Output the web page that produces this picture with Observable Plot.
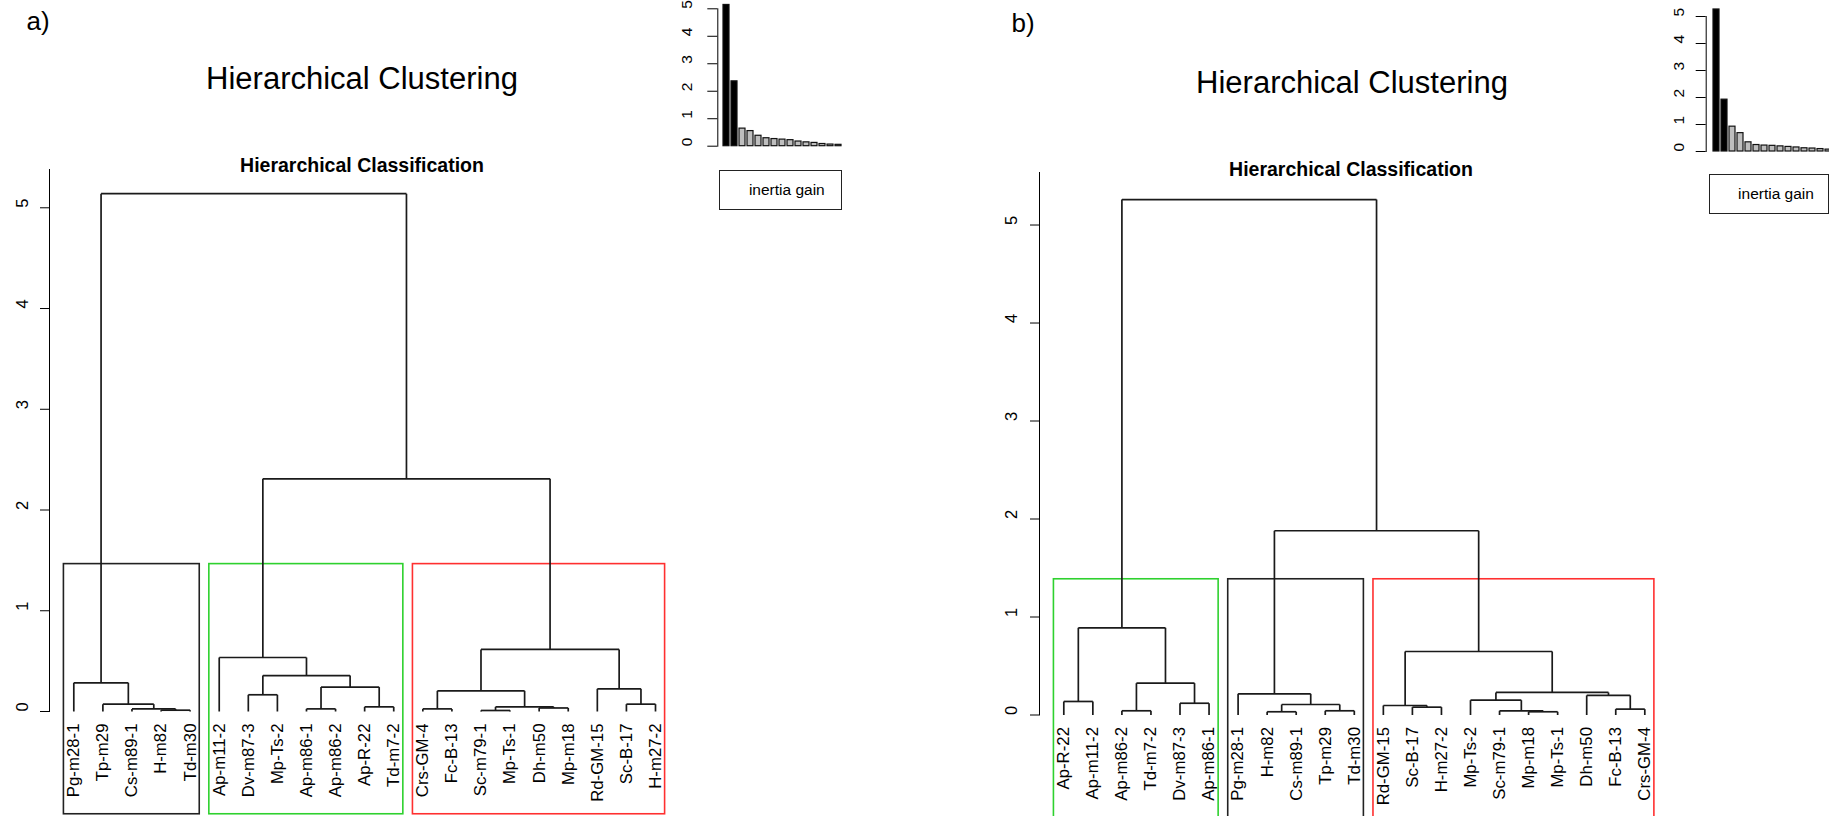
<!DOCTYPE html>
<html><head><meta charset="utf-8">
<script src="https://cdn.jsdelivr.net/npm/d3@7"></script>
<script src="https://cdn.jsdelivr.net/npm/@observablehq/plot@0.6"></script>
<style>
html,body{margin:0;padding:0;background:#fff;overflow:hidden;}
#wrap{position:relative;width:1829px;height:816px;overflow:hidden;background:#fff;font-family:"Liberation Sans",Arial,sans-serif;color:#000;}
#wrap > svg{position:absolute;left:0;top:0;}
.lbl{position:absolute;white-space:nowrap;line-height:1;transform:translate(-50%,-50%);}
.leg{position:absolute;border:1px solid #222;box-sizing:border-box;font-size:15.5px;display:flex;align-items:center;justify-content:center;}
</style></head><body><div id="wrap"></div>
<script>
// ---------- data ----------
const leavesA = ["Pg-m28-1","Tp-m29","Cs-m89-1","H-m82","Td-m30","Ap-m11-2","Dv-m87-3","Mp-Ts-2","Ap-m86-1","Ap-m86-2","Ap-R-22","Td-m7-2","Crs-GM-4","Fc-B-13","Sc-m79-1","Mp-Ts-1","Dh-m50","Mp-m18","Rd-GM-15","Sc-B-17","H-m27-2"];
// merges: [child, child, height]; strings = leaves, numbers = earlier merge index
const mergesA = [
  ["H-m82","Td-m30",0.013], ["Cs-m89-1",0,0.026], ["Tp-m29",1,0.073], ["Pg-m28-1",2,0.285],
  ["Ap-m86-1","Ap-m86-2",0.026], ["Ap-R-22","Td-m7-2",0.046], [4,5,0.242], ["Dv-m87-3","Mp-Ts-2",0.166],
  [7,6,0.357], ["Ap-m11-2",8,0.536],
  ["Crs-GM-4","Fc-B-13",0.026], ["Sc-m79-1","Mp-Ts-1",0.010], ["Dh-m50","Mp-m18",0.035], [11,12,0.046],
  [10,13,0.205], ["Sc-B-17","H-m27-2",0.073], ["Rd-GM-15",15,0.225], [14,16,0.616],
  [9,17,2.31], [3,18,5.14]
];
const clusterSizesA = [5,7,9];
const clusterColorsA = ["#222222","#2ed12e","#ff3030"];
const gainA = [5.14,2.36,0.64,0.55,0.38,0.29,0.26,0.24,0.22,0.17,0.14,0.12,0.08,0.06,0.05];

const leavesB = ["Ap-R-22","Ap-m11-2","Ap-m86-2","Td-m7-2","Dv-m87-3","Ap-m86-1","Pg-m28-1","H-m82","Cs-m89-1","Tp-m29","Td-m30","Rd-GM-15","Sc-B-17","H-m27-2","Mp-Ts-2","Sc-m79-1","Mp-m18","Mp-Ts-1","Dh-m50","Fc-B-13","Crs-GM-4"];
const mergesB = [
  ["Ap-R-22","Ap-m11-2",0.138], ["Ap-m86-2","Td-m7-2",0.043], ["Dv-m87-3","Ap-m86-1",0.12], [1,2,0.325], [0,3,0.89],
  ["H-m82","Cs-m89-1",0.033], ["Tp-m29","Td-m30",0.043], [5,6,0.107], ["Pg-m28-1",7,0.216],
  ["Sc-B-17","H-m27-2",0.08], ["Rd-GM-15",9,0.097], ["Mp-m18","Mp-Ts-1",0.033], ["Sc-m79-1",11,0.043],
  ["Mp-Ts-2",12,0.151], ["Fc-B-13","Crs-GM-4",0.06], ["Dh-m50",14,0.2], [13,15,0.23], [10,16,0.648],
  [8,17,1.88], [4,18,5.26]
];
const clusterSizesB = [6,5,10];
const clusterColorsB = ["#2ed12e","#222222","#ff3030"];
const gainB = [5.26,1.92,0.92,0.68,0.34,0.24,0.22,0.21,0.19,0.17,0.15,0.12,0.11,0.09,0.07];

const yTicksMain = [0,1,2,3,4,5];
const yTicksInset = [0,1,2,3,4,5];
const panelLetters = ["a)","b)"];
const mainTitle = "Hierarchical Clustering";
const subTitle = "Hierarchical Classification";
const legendText = "inertia gain";

// ---------- helpers ----------
function treeSegments(leaves, merges) {
  const pos = new Map(leaves.map((l, i) => [l, i + 1]));
  const nodes = [], segs = [];
  const get = c => typeof c === "string" ? {x: pos.get(c), h: 0} : nodes[c];
  for (const [a, b, h] of merges) {
    const A = get(a), B = get(b);
    segs.push({x1: A.x, y1: A.h, x2: A.x, y2: h});
    segs.push({x1: B.x, y1: B.h, x2: B.x, y2: h});
    segs.push({x1: A.x, y1: h, x2: B.x, y2: h});
    nodes.push({x: (A.x + B.x) / 2, h});
  }
  return segs;
}
function clusterBoxes(sizes, colors, merges, bottom) {
  const hs = merges.map(m => m[2]).sort((a, b) => b - a);
  const top = (hs[1] + hs[2]) / 2;
  let start = 0;
  return sizes.map((n, i) => {
    const r = {x1: start + 0.66, x2: start + n + 0.33, y1: bottom, y2: top, color: colors[i]};
    start += n;
    return r;
  });
}
const W = 1829, H = 816;
const wrap = document.getElementById("wrap");
const baseStyle = {background: "transparent", overflow: "visible", fontFamily: "'Liberation Sans', Arial, sans-serif", color: "#000"};

function panel(o) {
  const segs = treeSegments(o.leaves, o.merges);
  const boxes = clusterBoxes(o.sizes, o.colors, o.merges, o.bottom);
  return Plot.plot({
    width: W, height: H,
    marginLeft: o.axisX, marginRight: 0, marginTop: o.topPx, marginBottom: H - o.zeroPx,
    style: baseStyle,
    x: {type: "linear", domain: [1, o.leaves.length], range: o.xRange, axis: null},
    y: {domain: [0, o.yTop], ticks: yTicksMain, tickSize: 9, tickFormat: () => "", line: true, label: null},
    marks: [
      Plot.rect(boxes, {x1: "x1", x2: "x2", y1: "y1", y2: "y2", stroke: "color", fill: "none", strokeWidth: 1.6}),
      Plot.link(segs, {x1: "x1", y1: "y1", x2: "x2", y2: "y2", stroke: "#1a1a1a", strokeWidth: 1.7}),
      Plot.text(o.leaves, {x: (d, i) => i + 1, y: 0, text: d => d, rotate: -90, textAnchor: "end", dy: 12, fontSize: 16.8, fill: "#000"}),
      Plot.text(yTicksMain, {y: d => d, text: d => String(d), frameAnchor: "left", dx: o.labelDx, rotate: -90, fontSize: 16.5, fill: "#000"})
    ]
  });
}
function inset(o) {
  const idx = o.gain.map((d, i) => i + 1);
  return Plot.plot({
    width: W, height: H,
    marginLeft: o.axisX, marginRight: 0, marginTop: o.fivePx, marginBottom: H - o.zeroPx,
    style: baseStyle,
    x: {type: "band", domain: idx, range: o.xRange, paddingInner: 0.3, paddingOuter: 0, axis: null},
    y: {domain: [0, 5], ticks: yTicksInset, tickSize: 10, tickFormat: () => "", line: true, label: null},
    marks: [
      Plot.barY(o.gain, {x: (d, i) => i + 1, y: d => d, fill: (d, i) => i < 2 ? "#000000" : "#bebebe", stroke: "#111", strokeWidth: 1.2}),
      Plot.text(yTicksInset, {y: d => d, text: d => String(d), frameAnchor: "left", dx: o.labelDx, rotate: -90, fontSize: 15.5, fill: "#000"})
    ]
  });
}
function addLabel(txt, cx, cy, size, weight) {
  const d = document.createElement("div");
  d.className = "lbl";
  d.textContent = txt;
  d.style.left = cx + "px"; d.style.top = cy + "px";
  d.style.fontSize = size + "px"; d.style.fontWeight = weight || "normal";
  wrap.appendChild(d);
}
function addLegend(left, top, width, height, shift) {
  const d = document.createElement("div");
  d.className = "leg";
  d.style.left = left + "px"; d.style.top = top + "px";
  d.style.width = width + "px"; d.style.height = height + "px";
  d.style.paddingLeft = shift + "px";
  d.textContent = legendText;
  wrap.appendChild(d);
}

// ---------- draw ----------
wrap.appendChild(panel({leaves: leavesA, merges: mergesA, sizes: clusterSizesA, colors: clusterColorsA,
  axisX: 49, topPx: 169, zeroPx: 711, yTop: 5.38, xRange: [73.3, 655], bottom: -1.02, labelDx: -26.5}));
wrap.appendChild(panel({leaves: leavesB, merges: mergesB, sizes: clusterSizesB, colors: clusterColorsB,
  axisX: 1039, topPx: 172, zeroPx: 714.5, yTop: 5.536, xRange: [1063.3, 1644.3], bottom: -1.3, labelDx: -27.3}));
wrap.appendChild(inset({gain: gainA, axisX: 717.3, fivePx: 8.3, zeroPx: 145.7, xRange: [720.5, 843], labelDx: -30.6}));
wrap.appendChild(inset({gain: gainB, axisX: 1705.7, fivePx: 16, zeroPx: 151, xRange: [1709.3, 1835], labelDx: -27.4}));

addLabel(panelLetters[0], 38, 21, 26);
addLabel(panelLetters[1], 1023, 23, 26);
addLabel(mainTitle, 362, 78, 31);
addLabel(mainTitle, 1352, 82, 31);
addLabel(subTitle, 362, 166, 19.5, "bold");
addLabel(subTitle, 1351, 170, 19.5, "bold");
addLegend(719.3, 170, 123, 40, 12);
addLegend(1709, 174, 120, 40, 14);
</script></body></html>
